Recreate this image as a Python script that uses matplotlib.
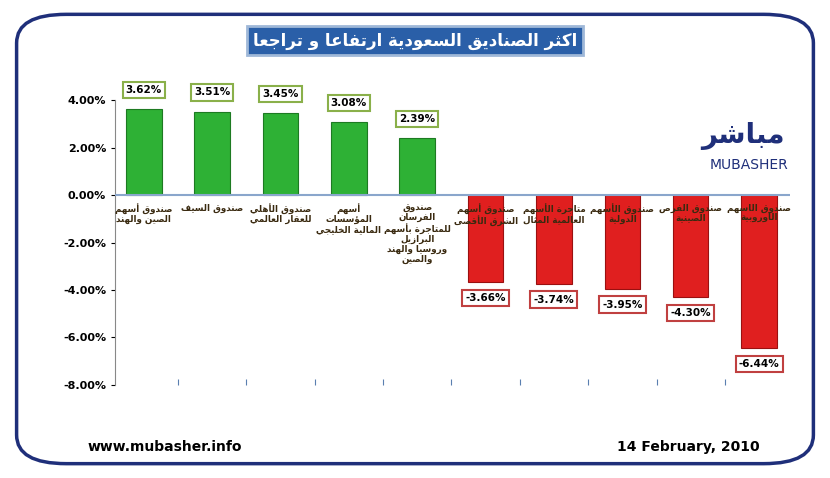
import unicodedata
import matplotlib
matplotlib.use("Agg")
import matplotlib.pyplot as plt
from matplotlib.patches import FancyBboxPatch

# ---- data ----
funds = [
    "صندوق أسهم\nالصين والهند",
    "صندوق السيف",
    "صندوق الأهلي\nللعقار العالمي",
    "أسهم\nالمؤسسات\nالمالية الخليجي",
    "صندوق\nالفرسان\nللمتاجرة بأسهم\nالبرازيل\nوروسيا والهند\nوالصين",
    "صندوق أسهم\nالشرق الأقصى",
    "متاجرة الأسهم\nالعالمية المثال",
    "صندوق الأسهم\nالدولية",
    "صندوق الفرص\nالصينية",
    "صندوق الاسهم\nالاوروبية",
]
changes = [3.62, 3.51, 3.45, 3.08, 2.39, -3.66, -3.74, -3.95, -4.30, -6.44]
yticks = [4, 2, 0, -2, -4, -6, -8]
title = "اكثر الصناديق السعودية ارتفاعا و تراجعا"


# ---- simple arabic shaping (matplotlib does no shaping / bidi) ----
def _form(c, kind):
    try:
        return unicodedata.lookup(unicodedata.name(c) + " " + kind + " FORM")
    except (KeyError, ValueError):
        return None


def _letter(c):
    return _form(c, "ISOLATED") is not None or _form(c, "FINAL") is not None


def shape_line(s):
    out = []
    chars = [c for c in s if c != "\u0651"]
    for i, c in enumerate(chars):
        if not _letter(c):
            out.append(c)
            continue
        prev = chars[i - 1] if i > 0 else ""
        nxt = chars[i + 1] if i + 1 < len(chars) else ""
        pj = bool(prev) and _letter(prev) and _form(prev, "INITIAL") is not None
        nj = bool(nxt) and _letter(nxt) and _form(nxt, "FINAL") is not None
        fj = _form(c, "INITIAL") is not None
        if pj and fj and nj:
            g = _form(c, "MEDIAL")
        elif pj:
            g = _form(c, "FINAL")
        elif fj and nj:
            g = _form(c, "INITIAL")
        else:
            g = _form(c, "ISOLATED")
        out.append(g or c)
    return "".join(out)[::-1]


def ar(s):
    return "\n".join(shape_line(l) for l in s.split("\n"))


fig = plt.figure(figsize=(8.3, 4.78), dpi=100)
fig.patch.set_facecolor("white")

# rounded frame
fig.patches.append(FancyBboxPatch((0.02, 0.03), 0.96, 0.94, boxstyle="round,pad=0,rounding_size=0.06",
                                  transform=fig.transFigure, fill=False, ec="#1f2f7a", lw=2.5))

# title box
fig.text(0.5, 0.915, ar(title), ha="center", va="center", fontsize=12, color="white",
         fontweight="bold", family="DejaVu Sans",
         bbox=dict(boxstyle="square,pad=0.35", fc="#2a5fa8", ec="#9fb8d8", lw=2))

ax = fig.add_axes([0.1386, 0.1946, 0.813, 0.596])
ax.set_facecolor("white")
x = list(range(len(changes)))
colors = ["#2eb135" if v > 0 else "#e01f1f" for v in changes]
edges = ["#1d7a22" if v > 0 else "#9a1010" for v in changes]
ax.bar(x, changes, width=0.52, color=colors, edgecolor=edges, lw=0.8, zorder=3)

ax.set_ylim(-8, 4)
ax.set_xlim(-0.42, len(changes) - 0.55)
ax.set_yticks(yticks)
ax.set_yticklabels([f"{t:.2f}%" for t in yticks], fontsize=8, fontweight="bold")
ax.set_xticks([i + 0.5 for i in x[:-1]])
ax.set_xticklabels([])
ax.tick_params(axis="x", length=4, direction="in", colors="#5a7fb0")
ax.tick_params(axis="y", length=3)
ax.axhline(0, color="#8aa6cc", lw=1.5, zorder=4)
for s in ["top", "right", "bottom"]:
    ax.spines[s].set_visible(False)
ax.spines["left"].set_color("#888888")

for i, (f, v) in enumerate(zip(funds, changes)):
    ax.text(i, -0.35, ar(f), ha="center", va="top", fontsize=6.3, fontweight="bold",
            color="#3a2a10", linespacing=1.1, zorder=5, family="DejaVu Sans")
    if v > 0:
        ax.text(i, v + 0.6, f"{v:.2f}%", ha="center", va="bottom", fontsize=7.5, fontweight="bold",
                bbox=dict(boxstyle="square,pad=0.3", fc="white", ec="#8ab04a", lw=1.5), zorder=6)
    else:
        ax.text(i, v - 0.45, f"{v:.2f}%", ha="center", va="top", fontsize=7.5, fontweight="bold",
                bbox=dict(boxstyle="square,pad=0.3", fc="white", ec="#c04040", lw=1.5), zorder=6)

# logo
fig.text(0.95, 0.655, "MUBASHER", ha="right", va="center", fontsize=10, color="#1f2f7a")
fig.text(0.945, 0.715, ar("مباشر"), ha="right", va="center", fontsize=20, color="#1f2f7a",
         fontweight="bold", family="DejaVu Sans")

fig.text(0.105, 0.065, "www.mubasher.info", ha="left", va="center", fontsize=10, fontweight="bold")
fig.text(0.915, 0.065, "14 February, 2010", ha="right", va="center", fontsize=10, fontweight="bold")

fig.savefig("out.png", dpi=100)
